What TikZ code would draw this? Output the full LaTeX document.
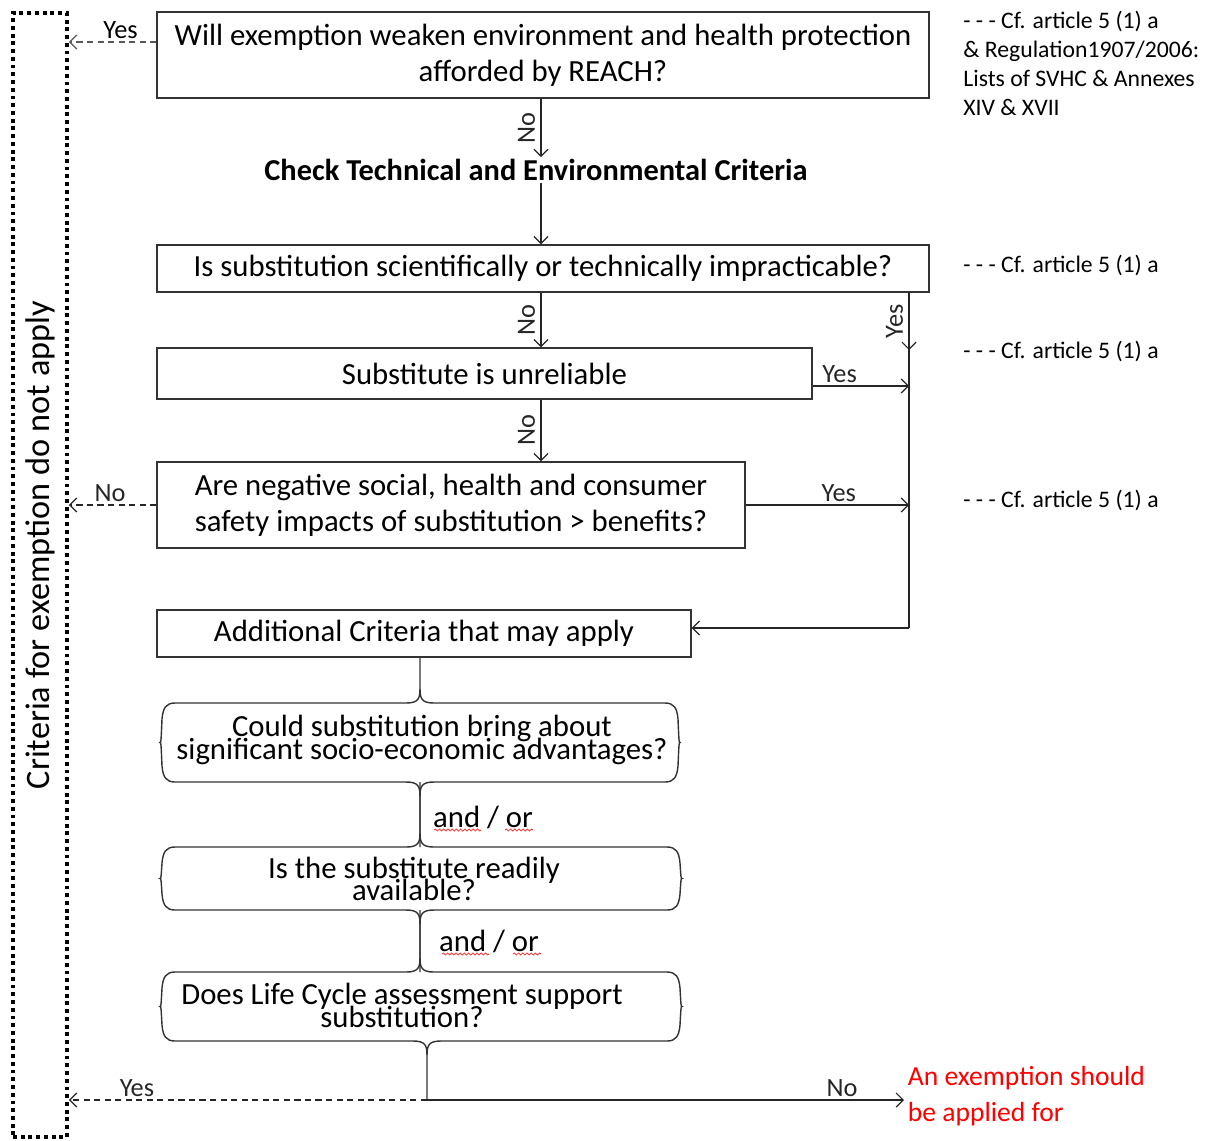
\documentclass[tikz,border=0pt]{standalone}
\usepackage{fontspec}
\setmainfont{Carlito}
\usetikzlibrary{arrows.meta}
\usetikzlibrary{decorations.pathmorphing}

\tikzset{
 crit/.style={draw=black!80, line width=0.8pt, inner sep=0, align=center, font=\fontsize{17.5}{20.4}\selectfont},
 brtext/.style={inner sep=0, align=center, font=\fontsize{17.5}{13}\selectfont},
 brace/.style={black!80, line width=0.8pt},
 lbl/.style={font=\fontsize{15}{17}\selectfont, inner sep=1.5pt},
 rlbl/.style={lbl, rotate=90, above, inner sep=3pt},
 note/.style={font=\fontsize{13.5}{16.4}\selectfont, align=left, anchor=west, inner sep=0},
 conn/.style={black!85, line width=0.7pt, ->},
 dashconn/.style={conn, dash pattern=on 3.5pt off 2.5pt},
 dotbox/.style={draw, line width=2.2pt, dash pattern=on 2.2pt off 2.2pt},
 squiggle/.style={red!85, line width=0.4pt, decorate, decoration={snake, amplitude=0.6pt, segment length=2.4pt}}
}

\begin{document}
\begin{tikzpicture}[x=0.02cm, y=-0.02cm, >={Straight Barb[length=4pt,width=8pt]}]
\useasboundingbox (0,0) rectangle (1217,1140);

\node[dotbox, minimum width=1.08cm, minimum height=22.48cm] (nocrit) at (40,575) {};
\node[rotate=90, font=\fontsize{19.5}{22}\selectfont] (nocrittxt) at (40,545) {Criteria for exemption do not apply};

\node[crit, minimum width=15.44cm, minimum height=1.72cm] (reach) at (543,55) {Will exemption weaken environment and health protection\\ afforded by REACH?};
\node[font=\fontsize{17.3}{18}\selectfont\bfseries, inner sep=1pt] (check) at (536,170) {Check Technical and Environmental Criteria};
\node[crit, minimum width=15.44cm, minimum height=0.94cm] (impract) at (543,268.5) {Is substitution scientifically or technically impracticable?};
\node[crit, minimum width=13.1cm, minimum height=1.02cm] (unrel) at (484.5,373.5) {Substitute is unreliable};
\node[crit, minimum width=11.76cm, minimum height=1.72cm] (negimp) at (451,505) {Are negative social, health and consumer\\ safety impacts of substitution > benefits?};
\node[crit, minimum width=10.68cm, minimum height=0.94cm] (addcrit) at (424,633.5) {Additional Criteria that may apply};

\node[brtext] (socio) at (422,740) {Could substitution bring about\\[-3pt] significant socio-economic advantages?};
\node[brtext] (avail) at (414,879) {Is the substitute readily\\[-3pt] available?};
\node[brtext] (lca) at (402,1005.5) {Does Life Cycle assessment support\\[-3pt] substitution?};
\node[brtext] (andor1) at (483,817) {and / or};
\node[brtext] (andor2) at (489,941) {and / or};

\foreach \xl/\xr/\yt/\yb/\ct/\yu/\cb/\yd in {163/677/703/782/420/657/420/847, 163/679/847/910/420/782/420/972, 163/679/972/1041/420/910/427/1100} {
 \draw[brace] (\ct,\yu) -- (\ct,\yt-14) .. controls (\ct,\yt-4) and (\ct+2,\yt) .. (\ct+14,\yt) -- (\xr-12,\yt)
   .. controls (\xr-3,\yt) and (\xr,\yt+5) .. (\xr+1,\yt+16) .. controls (\xr+2,{(\yt+\yb)/2}) .. (\xr+3,{(\yt+\yb)/2})
   .. controls (\xr+2,{(\yt+\yb)/2}) .. (\xr+1,\yb-16) .. controls (\xr,\yb-5) and (\xr-3,\yb) .. (\xr-12,\yb)
   -- (\cb+14,\yb) .. controls (\cb+2,\yb) and (\cb,\yb+4) .. (\cb,\yb+14) -- (\cb,\yd);
 \draw[brace] (\ct,\yt-14) .. controls (\ct,\yt-4) and (\ct-2,\yt) .. (\ct-14,\yt) -- (\xl+12,\yt)
   .. controls (\xl+3,\yt) and (\xl,\yt+5) .. (\xl-1,\yt+16) .. controls (\xl-2,{(\yt+\yb)/2}) .. (\xl-3,{(\yt+\yb)/2})
   .. controls (\xl-2,{(\yt+\yb)/2}) .. (\xl-1,\yb-16) .. controls (\xl,\yb-5) and (\xl+3,\yb) .. (\xl+12,\yb)
   -- (\cb-14,\yb) .. controls (\cb-2,\yb) and (\cb,\yb+4) .. (\cb,\yb+14);
}
\draw[squiggle] (434,830) -- (481,830);
\draw[squiggle] (505,830) -- (533,830);
\draw[squiggle] (442,954) -- (489,954);
\draw[squiggle] (513,954) -- (541,954);

\coordinate (rtop) at (909,292);
\coordinate (rbot) at (909,628);
\coordinate (split) at (427,1100);

\draw[conn] (reach.south -| 541,0) -- (check.north -| 541,0) node[rlbl, midway] {No};
\draw[conn] (check.south -| 541,0) -- (impract.north -| 541,0);
\draw[conn] (impract.south -| 541,0) -- (unrel.north -| 541,0) node[rlbl, midway] {No};
\draw[conn] (unrel.south -| 541,0) -- (negimp.north -| 541,0) node[rlbl, midway] {No};

\draw[conn] (rtop) -- ++(0,58) node[rlbl, midway] {Yes};
\draw[black!85, line width=0.7pt] (rtop) -- (rbot);
\draw[conn] (rbot) -- (rbot -| addcrit.east);
\draw[conn] (unrel.east |- 0,386) -- (rtop |- 0,386) node[lbl, pos=0.28, above] {Yes};
\draw[conn] (negimp.east) -- (rtop |- negimp.east) node[lbl, pos=0.57, above] {Yes};

\draw[dashconn, black!65] (reach.west |- 0,42) -- (nocrit.east |- 0,42) node[lbl, pos=0.41, above, text=black] {Yes};
\draw[dashconn] (negimp.west) -- (nocrit.east |- negimp.west) node[lbl, pos=0.53, above] {No};
\draw[dashconn] (split) -- (nocrit.east |- split) node[lbl, pos=0.81, above] {Yes};

\node[note, font=\fontsize{15.7}{20.4}\selectfont, text=red, inner sep=2pt] (exempt) at (904,1096) {An exemption should\\ be applied for};
\draw[conn] (split) -- (exempt.west |- split) node[lbl, pos=0.87, above] {No};

\node[note] (cf1) at (963,63.5) {- - - Cf. article 5 (1) a\\ \& Regulation1907/2006:\\ Lists of SVHC \& Annexes\\ XIV \& XVII};
\node[note] (cf2) at (963,265) {- - - Cf. article 5 (1) a};
\node[note] (cf3) at (963,351) {- - - Cf. article 5 (1) a};
\node[note] (cf4) at (963,500) {- - - Cf. article 5 (1) a};
\end{tikzpicture}
\end{document}
